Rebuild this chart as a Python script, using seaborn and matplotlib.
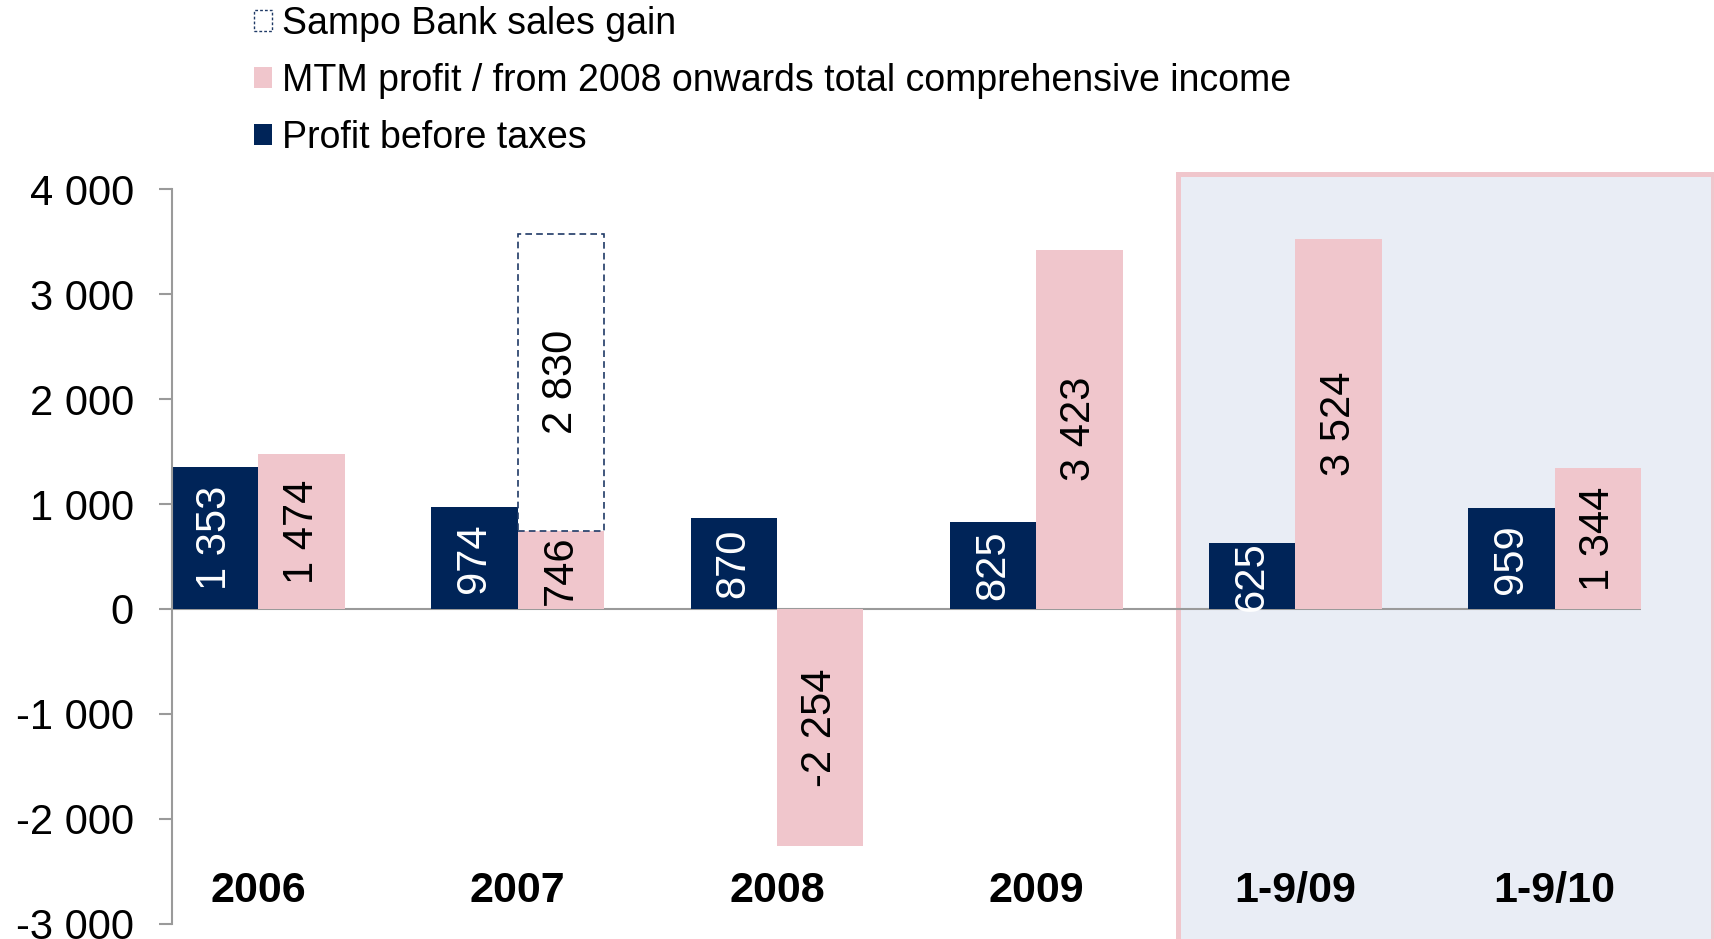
import matplotlib
matplotlib.use("Agg")
import matplotlib.pyplot as plt
from matplotlib.patches import Patch, Rectangle
import seaborn as sns
import pandas as pd

# Data (EUR million)
periods = ["2006", "2007", "2008", "2009", "1-9/09", "1-9/10"]
profit_before_taxes = [1353, 974, 870, 825, 625, 959]
mtm_profit = [1474, 746, -2254, 3423, 3524, 1344]
sampo_bank_gain_2007 = 2830
series_names = [
    "Profit before taxes",
    "MTM profit / from 2008 onwards total comprehensive income",
    "Sampo Bank sales gain",
]
y_ticks = [-3000, -2000, -1000, 0, 1000, 2000, 3000, 4000]
y_tick_labels = ["-3 000", "-2 000", "-1 000", "0", "1 000", "2 000", "3 000", "4 000"]

NAVY = "#002458"
PINK = "#F0C6CC"
PANEL = "#E9EDF5"
GREY = "#9A9A9A"


def fmt(v):
    return f"{v:,}".replace(",", " ")


sns.set_style("white")
plt.rcParams["font.family"] = ["Liberation Sans", "DejaVu Sans"]
plt.rcParams["text.color"] = "black"

df = pd.DataFrame({
    "period": periods * 2,
    "series": [series_names[0]] * len(periods) + [series_names[1]] * len(periods),
    "value": profit_before_taxes + mtm_profit,
})

fig = plt.figure(figsize=(17.15, 9.39), dpi=100)
ax = fig.add_axes([0.1003, 0.016, 0.8566, 0.7827])
ax.patch.set_alpha(0)

sns.barplot(
    data=df, x="period", y="value", hue="series",
    order=periods, hue_order=series_names[:2],
    palette=[NAVY, PINK], saturation=1, width=2 / 3,
    linewidth=0, errorbar=None, legend=False, ax=ax, zorder=2,
)

# Shaded panel behind the interim periods
ax.add_patch(Rectangle((3.548, -3400), 5.612 - 3.548, 4143 + 3400,
                       facecolor=PANEL, edgecolor=PINK, linewidth=3.6,
                       zorder=0.5, clip_on=False))

ax.axhline(0, color=GREY, linewidth=1.5, zorder=1.5)

profit_bars, mtm_bars = ax.containers[0], ax.containers[1]

# Sampo Bank sales gain stacked on the 2007 MTM bar
p07 = mtm_bars[1]
gain = ax.bar(p07.get_x() + p07.get_width() / 2, sampo_bank_gain_2007,
              width=p07.get_width(), bottom=mtm_profit[1],
              facecolor="white", edgecolor="#1F3A66", linewidth=1.2,
              linestyle=(0, (4, 2.5)), zorder=2)

ax.bar_label(profit_bars, labels=[fmt(v) for v in profit_before_taxes],
             label_type="center", rotation=90, color="white", fontsize=30, zorder=4)
ax.bar_label(mtm_bars, labels=[fmt(v) for v in mtm_profit],
             label_type="center", rotation=90, color="black", fontsize=30, zorder=4)
ax.bar_label(gain, labels=[fmt(sampo_bank_gain_2007)],
             label_type="center", rotation=90, color="black", fontsize=30, zorder=4)

# Period names sit inside the plot near the bottom
for i, name in enumerate(periods):
    ax.text(i, -2690, name, ha="center", va="center",
            fontsize=31, fontweight="bold", color="black", zorder=4)

ax.set_xlim(-1 / 3, 5 + 1 / 3)
ax.set_ylim(-3000, 4000)
ax.set_yticks(y_ticks)
ax.set_yticklabels(y_tick_labels)
ax.set_xticks([])
ax.set_xlabel("")
ax.set_ylabel("")

for side in ["top", "right", "bottom"]:
    ax.spines[side].set_visible(False)
ax.spines["left"].set_color(GREY)
ax.spines["left"].set_linewidth(1.5)
ax.tick_params(axis="y", direction="out", length=9.5, width=1.5, color=GREY,
               pad=18, labelsize=30, labelcolor="black", left=True)

handles = [
    Patch(facecolor="white", edgecolor="#1F3A66", linewidth=1.0, linestyle=(0, (2, 1.5))),
    Patch(facecolor=PINK, edgecolor="none"),
    Patch(facecolor=NAVY, edgecolor="none"),
]
labels = [series_names[2], series_names[1], series_names[0]]
leg = fig.legend(handles, labels, loc="upper left", bbox_to_anchor=(0.148, 0.994),
                 frameon=False, fontsize=27, handlelength=0.48, handleheight=0.48,
                 handletextpad=0.27, labelspacing=0.56, borderpad=0, borderaxespad=0)
for t in leg.get_texts():
    t.set_color("black")

fig.savefig("out.png", dpi=100)
